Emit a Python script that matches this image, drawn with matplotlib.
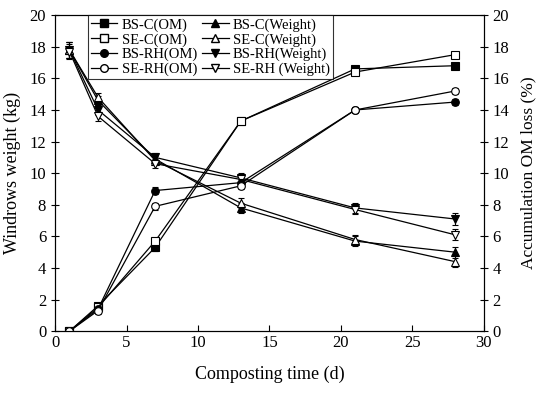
import numpy as np
import matplotlib.pyplot as plt
from matplotlib.lines import Line2D

plt.rcParams['font.family'] = ['Liberation Serif', 'DejaVu Serif']

days = [1, 3, 7, 13, 21, 28]

# OM loss (%), right axis
bsc_om = [0, 1.6, 5.3, 13.3, 16.6, 16.8]
sec_om = [0, 1.5, 5.7, 13.3, 16.4, 17.5]
bsrh_om = [0, 1.4, 8.9, 9.4, 14.0, 14.5]
serh_om = [0, 1.3, 7.9, 9.2, 14.0, 15.2]
om_err = [0.1, 0.2, 0.2, 0.2, 0.2, 0.2]

# windrow weight (kg), left axis
bsc_w = [17.8, 14.6, 10.9, 7.8, 5.7, 5.0]
sec_w = [17.8, 14.8, 10.8, 8.1, 5.8, 4.4]
bsrh_w = [17.8, 14.0, 11.0, 9.7, 7.8, 7.1]
serh_w = [17.7, 13.6, 10.6, 9.6, 7.7, 6.1]
w_err = [0.5, 0.3, 0.3, 0.3, 0.3, 0.35]

fig = plt.figure(figsize=(5.41, 3.99), dpi=100)
ax = fig.add_axes([0.102, 0.170, 0.792, 0.792])
ax2 = ax.twinx()

kw = dict(color='k', lw=0.9, ms=5.5, capsize=2.5, elinewidth=0.8, capthick=0.8,
          markeredgecolor='k', markeredgewidth=0.8)

ax.errorbar(days, bsc_w, yerr=w_err, marker='^', mfc='k', **kw)
ax.errorbar(days, sec_w, yerr=w_err, marker='^', mfc='white', **kw)
ax.errorbar(days, bsrh_w, yerr=w_err, marker='v', mfc='k', **kw)
ax.errorbar(days, serh_w, yerr=w_err, marker='v', mfc='white', **kw)

ax2.errorbar(days, bsc_om, yerr=om_err, marker='s', mfc='k', **kw)
ax2.errorbar(days, sec_om, yerr=om_err, marker='s', mfc='white', **kw)
ax2.errorbar(days, bsrh_om, yerr=om_err, marker='o', mfc='k', **kw)
ax2.errorbar(days, serh_om, yerr=om_err, marker='o', mfc='white', **kw)

ax.set_xlim(0, 30)
ax.set_ylim(0, 20)
ax2.set_ylim(0, 20)
ax.set_xticks(range(0, 31, 5))
ax.set_yticks(range(0, 21, 2))
ax2.set_yticks(range(0, 21, 2))
ax.tick_params(axis='x', direction='in', length=4, labelsize=12, pad=3)
ax.tick_params(axis='y', direction='inout', length=6, labelsize=12)
ax2.tick_params(axis='y', direction='inout', length=6, labelsize=12)
ax.set_xlabel('Composting time (d)', fontsize=13, labelpad=10)
ax.set_ylabel('Windrows weight (kg)', fontsize=13, labelpad=6)
ax2.set_ylabel('Accumulation OM loss (%)', fontsize=12.5, labelpad=8)

def h(m, fc):
    return Line2D([], [], color='k', lw=0.9, marker=m, mfc=fc, mec='k', ms=5.5)

handles = [h('s', 'k'), h('s', 'white'), h('o', 'k'), h('o', 'white'),
           h('^', 'k'), h('^', 'white'), h('v', 'k'), h('v', 'white')]
labels = ['BS-C(OM)', 'SE-C(OM)', 'BS-RH(OM)', 'SE-RH(OM)',
          'BS-C(Weight)', 'SE-C(Weight)', 'BS-RH(Weight)', 'SE-RH (Weight)']
leg = ax2.legend(handles, labels, ncol=2, loc='upper left',
                 bbox_to_anchor=(0.077, 1.0), fontsize=10.5, frameon=True,
                 fancybox=False, edgecolor='k', handlelength=1.8,
                 handletextpad=0.3, columnspacing=0.3, labelspacing=0.1,
                 borderpad=0.2, borderaxespad=0)
leg.get_frame().set_linewidth(0.8)

fig.savefig('out.png', dpi=100)
